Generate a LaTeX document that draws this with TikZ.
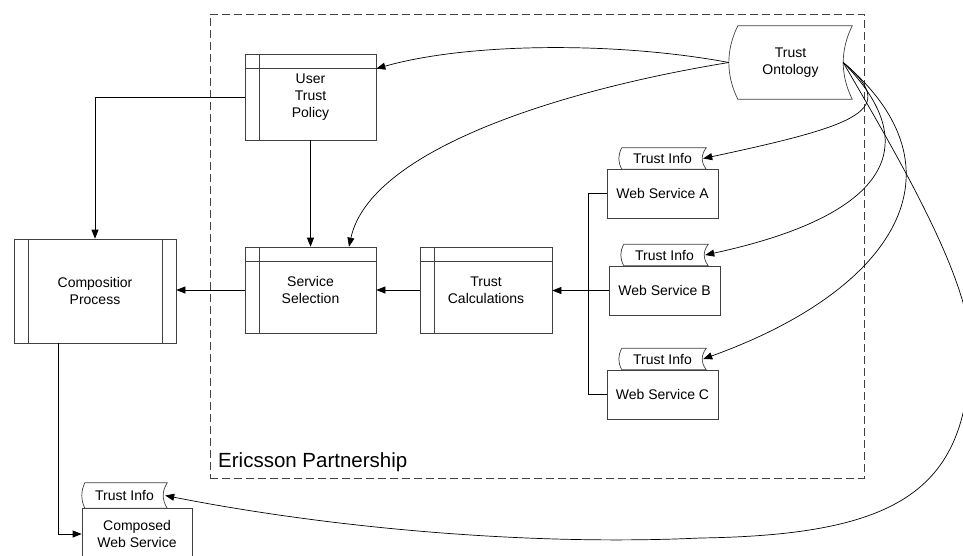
\documentclass[tikz,border=0pt]{standalone}
\usepackage{fontspec}
\setmainfont{Liberation Sans}
\usetikzlibrary{arrows.meta,calc}

\tikzset{
  boxline/.style={draw=black!75, line width=0.7pt},
  conn/.style={draw=black, line width=0.7pt},
  arr/.style={conn, -{Triangle[length=9pt,width=7pt]}},
  txt/.style={font=\fontsize{14}{17}\selectfont, align=center, inner sep=0pt},
  plainbox/.style={boxline, txt, rectangle},
  tagnode/.style={txt, rectangle, minimum width=87pt, minimum height=21pt},
  frame/.style={draw=black!75, line width=0.9pt, dash pattern=on 8pt off 4pt, rectangle, inner sep=0pt},
}

% left and top inner bars (internal storage box)
\newcommand\storebars[1]{%
  \draw[boxline] ([xshift=15pt]#1.north west) -- ([xshift=15pt]#1.south west);
  \draw[boxline] ([yshift=-15pt]#1.north west) -- ([yshift=-15pt]#1.north east);}
% left and right inner bars (predefined process box)
\newcommand\procbars[1]{%
  \draw[boxline] ([xshift=15pt]#1.north west) -- ([xshift=15pt]#1.south west);
  \draw[boxline] ([xshift=-14pt]#1.north east) -- ([xshift=-14pt]#1.south east);}
% stored-data outline: convex left side (bulge #2), concave right side (depth #3)
\newcommand\storedshape[3]{%
  \draw[boxline, fill=white] ([xshift=#2pt]#1.north west) -- (#1.north east)
    .. controls ($(#1.north east)!1/3!(#1.south east)+(-1.33*#3,0)$)
            and ($(#1.north east)!2/3!(#1.south east)+(-1.33*#3,0)$) .. (#1.south east)
    -- ([xshift=#2pt]#1.south west)
    .. controls ($(#1.south west)!1/3!(#1.north west)+(-0.33*#2,0)$)
            and ($(#1.south west)!2/3!(#1.north west)+(-0.33*#2,0)$) .. cycle;}

\begin{document}
\begin{tikzpicture}[x=1pt,y=-1pt]
\clip (0,0) rectangle (963,555);
\fill[white] (0,0) rectangle (963,555);

% partnership frame
\node[frame, minimum width=654pt, minimum height=464pt] (partner) at (537,246) {};
\node[anchor=base west, inner sep=0pt, font=\fontsize{20.5}{24}\selectfont] (plabel) at (218,467) {Ericsson Partnership};

% process boxes
\node[plainbox, minimum width=131pt, minimum height=86pt] (utp) at (310.5,97) {User\\Trust\\Policy};
\storebars{utp}
\node[plainbox, minimum width=131pt, minimum height=86pt] (ss) at (310.5,290) {Service\\Selection};
\storebars{ss}
\node[plainbox, minimum width=132pt, minimum height=86pt] (tc) at (486,290) {Trust\\Calculations};
\storebars{tc}
\node[plainbox, minimum width=162pt, minimum height=104pt] (comp) at (95,291) {Compositior\\Process};
\procbars{comp}

% web services with their trust info tags
\node[plainbox, minimum width=111pt, minimum height=49pt] (wsA) at (662.5,193.5) {Web Service A};
\node[tagnode] (tagA) at (662.5,158.5) {};
\storedshape{tagA}{3}{4}
\node[txt] at (tagA.center) {Trust Info};

\node[plainbox, minimum width=111pt, minimum height=49pt] (wsB) at (664.5,290.5) {Web Service B};
\node[tagnode] (tagB) at (664.5,255) {};
\storedshape{tagB}{3}{4}
\node[txt] at (tagB.center) {Trust Info};

\node[plainbox, minimum width=111pt, minimum height=49pt] (wsC) at (662.5,394.5) {Web Service C};
\node[tagnode] (tagC) at (662.5,359) {};
\storedshape{tagC}{3}{4}
\node[txt] at (tagC.center) {Trust Info};

\node[plainbox, minimum width=110pt, minimum height=52pt] (cws) at (137,534) {Composed\\Web Service};
\node[tagnode, minimum width=85pt, minimum height=25pt] (tagW) at (124.5,495.5) {};
\storedshape{tagW}{3}{4}
\node[txt] at (tagW.center) {Trust Info};

% ontology store
\node[txt, minimum width=123pt, minimum height=73pt] (onto) at (790.5,62.5) {};
\storedshape{onto}{9}{9}
\node[txt] at (onto.center) {Trust\\Ontology};
\coordinate (ontR) at ([xshift=-9pt]onto.east);

% flow connectors
\draw[arr] (utp.west) -| (comp.north);
\draw[arr] (utp.south) -- (ss.north);
\draw[arr] (ss.west) -- (ss.west -| comp.east);
\draw[arr] (tc.west) -- (tc.west -| ss.east);
\draw[arr] (wsB.west) -- (wsB.west -| tc.east);
\draw[conn] (wsA.west) -- ++(-18,0) |- (wsC.west);
\draw[arr] ([xshift=45pt]comp.south west) |- (cws.west);

% ontology links
\draw[arr] (onto.west) .. controls (620,42) and (470,42) .. ([yshift=-15pt]utp.north east);
\draw[arr] (onto.west) .. controls (560,90) and (370,150) .. ([xshift=38.5pt]ss.north);
\draw[arr] (ontR) .. controls (900,110) and (860,125) .. ([xshift=-3pt]tagA.east);
\draw[arr] (ontR) .. controls (925,145) and (890,215) .. ([xshift=-3pt]tagB.east);
\draw[arr] (ontR) .. controls (970,170) and (895,290) .. ([xshift=-3pt]tagC.east);
\draw[arr] (ontR) .. controls (900,160) and (970,280) .. (970,345)
  .. controls (970,490) and (900,535) .. (700,538)
  .. controls (530,546) and (330,528) .. ([xshift=-2pt]tagW.east);
\end{tikzpicture}
\end{document}
